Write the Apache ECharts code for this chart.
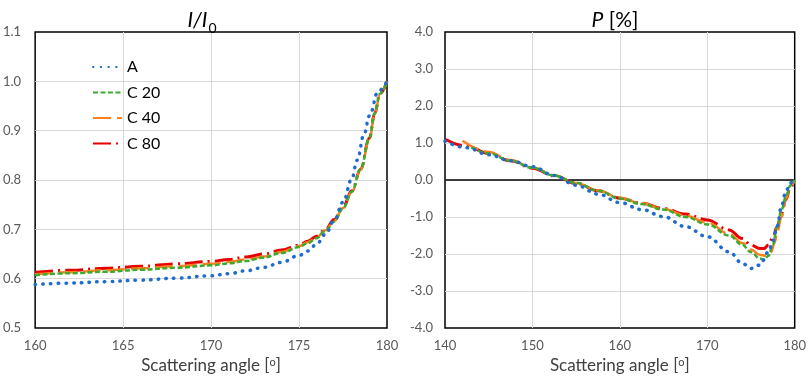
<!DOCTYPE html>
<html>
<head>
<meta charset="utf-8">
<script src="https://cdn.jsdelivr.net/npm/echarts@6/dist/echarts.min.js"></script>
<style>
  html, body { margin: 0; padding: 0; background: #fff; }
  #main { width: 809px; height: 381px; }
</style>
</head>
<body>
<div id="main"></div>
<script>
  // I/I0 panel (left)
  let iAngA = [160, 162, 164, 166, 168, 170, 171, 172, 173, 174, 175, 175.5, 176, 176.5, 177, 177.5, 178, 178.3, 178.7, 179, 179.5, 180];
  let iA = [0.588, 0.591, 0.594, 0.597, 0.601, 0.606, 0.610, 0.616, 0.623, 0.633, 0.647, 0.656, 0.670, 0.690, 0.718, 0.755, 0.802, 0.840, 0.893, 0.930, 0.980, 1.0];
  let iAngC = [160, 162, 164, 166, 168, 170, 171, 172, 173, 174, 175, 175.5, 176, 176.5, 177, 177.5, 178, 178.5, 179, 179.3, 179.6, 180];
  let iC20 = [0.607, 0.611, 0.614, 0.618, 0.622, 0.627, 0.631, 0.636, 0.643, 0.652, 0.664, 0.672, 0.682, 0.697, 0.716, 0.742, 0.776, 0.822, 0.885, 0.935, 0.975, 1.0];
  let iC40 = [0.609, 0.613, 0.617, 0.621, 0.625, 0.630, 0.634, 0.639, 0.645, 0.654, 0.666, 0.674, 0.684, 0.698, 0.717, 0.743, 0.776, 0.821, 0.883, 0.933, 0.974, 1.0];
  let iC80 = [0.613, 0.617, 0.621, 0.625, 0.630, 0.635, 0.639, 0.644, 0.650, 0.658, 0.668, 0.676, 0.686, 0.700, 0.720, 0.745, 0.778, 0.822, 0.885, 0.935, 0.975, 1.0];

  // P panel (right)
  let pAngA = [140, 142.5, 145, 147.5, 150, 152.5, 155, 157.5, 160, 162.5, 165, 167.5, 170, 172.5, 174, 175, 176, 177, 177.5, 178, 178.5, 179, 179.5, 180];
  let pA = [1.05, 0.87, 0.68, 0.52, 0.36, 0.12, -0.14, -0.38, -0.61, -0.80, -0.99, -1.26, -1.53, -1.94, -2.25, -2.39, -2.30, -1.95, -1.65, -1.25, -0.70, -0.30, -0.08, 0];
  let pAngC20 = [143, 145, 147.5, 150, 152.5, 155, 157.5, 160, 162.5, 165, 167.5, 170, 172.5, 174, 175, 176, 176.5, 177, 177.5, 178, 178.5, 179, 179.5, 180];
  let pC20 = [0.88, 0.72, 0.52, 0.33, 0.12, -0.08, -0.29, -0.50, -0.65, -0.80, -1.00, -1.20, -1.50, -1.75, -1.95, -2.12, -2.16, -2.05, -1.75, -1.25, -0.80, -0.45, -0.15, 0];
  let pAngC40 = [142, 145, 147.5, 150, 152.5, 155, 157.5, 160, 162.5, 165, 167.5, 170, 172.5, 174, 175, 176, 176.75, 177.3, 177.7, 178, 178.5, 179, 179.5, 180];
  let pC40 = [1.06, 0.76, 0.54, 0.34, 0.13, -0.08, -0.28, -0.48, -0.63, -0.78, -0.96, -1.15, -1.45, -1.70, -1.88, -2.02, -2.05, -1.95, -1.70, -1.40, -1.00, -0.50, -0.18, 0];
  let pAngC80 = [140, 142.5, 145, 147.5, 150, 152.5, 155, 157.5, 160, 162.5, 165, 167.5, 170, 172.5, 174, 175, 176, 176.5, 177, 177.5, 178, 178.5, 179, 179.5, 180];
  let pC80 = [1.10, 0.91, 0.72, 0.52, 0.32, 0.11, -0.09, -0.29, -0.49, -0.63, -0.77, -0.92, -1.08, -1.35, -1.58, -1.76, -1.85, -1.85, -1.76, -1.55, -1.26, -0.90, -0.52, -0.20, 0];

  let seriesNames = ['A', 'C 20', 'C 40', 'C 80'];
  let colors = ['#1f6ccf', '#3aab2d', '#ff7f1e', '#e60000'];

  const font = 'Lato, "Open Sans", sans-serif';
  const zip = (xs, ys) => xs.map((x, i) => [x, ys[i]]);

  // line looks per series
  let styles = [
    { width: 3.5, type: [0.5, 7.2], cap: 'round' },
    { width: 2.5, type: [5, 2.5] },
    { width: 2.5, type: [18, 6] },
    { width: 3, type: [18, 5, 2, 5] }
  ];

  function mkLine(name, idx, data, gi, extra) {
    let s = {
      name: name,
      type: 'line',
      xAxisIndex: gi,
      yAxisIndex: gi,
      data: data,
      smooth: 0.4,
      smoothMonotone: 'x',
      showSymbol: false,
      symbol: 'none',
      lineStyle: Object.assign({ color: colors[idx] }, styles[idx]),
      itemStyle: { color: colors[idx] },
      z: 10 - idx
    };
    return Object.assign(s, extra || {});
  }

  let chart = echarts.init(document.getElementById('main'));

  let axisName = {
    name: 'Scattering angle [{s|o}]',
    nameLocation: 'middle',
    nameGap: 29,
    nameTextStyle: {
      fontFamily: font, fontSize: 17, color: '#404040',
      rich: { s: { fontFamily: font, fontSize: 11, color: '#404040', verticalAlign: 'top' } }
    }
  };
  let split = { showMinLine: false, showMaxLine: false, lineStyle: { color: '#d9d9d9' } };

  let option = {
    animation: false,
    color: colors,
    title: [{
      text: '{i|I/I}{s|0}',
      left: 197, top: 5, textAlign: 'center',
      textStyle: {
        fontWeight: 'normal',
        rich: {
          i: { fontFamily: font, fontSize: 21, fontStyle: 'italic', fontWeight: 'normal', color: '#000', verticalAlign: 'top', lineHeight: 26 },
          s: { fontFamily: font, fontSize: 14, fontWeight: 'normal', color: '#000', verticalAlign: 'top', lineHeight: 14, padding: [11, 0, 0, 1] }
        }
      }
    }, {
      text: '{i|P} [%]',
      left: 610, top: 5, textAlign: 'center',
      textStyle: {
        fontFamily: font, fontSize: 21, fontWeight: 'normal', color: '#000',
        rich: { i: { fontFamily: font, fontSize: 21, fontStyle: 'italic', fontWeight: 'normal', color: '#000' } }
      }
    }],
    legend: {
      data: seriesNames,
      orient: 'vertical',
      left: 92, top: 59, padding: 0,
      itemWidth: 29, itemHeight: 14, itemGap: 9.5,
      itemStyle: { opacity: 0 },
      textStyle: { fontFamily: font, fontSize: 16, color: '#000' }
    },
    grid: [
      { left: 35, top: 32, width: 352, height: 296, show: true, borderColor: '#000', borderWidth: 1.5 },
      { left: 445, top: 32, width: 352, height: 296, show: true, borderColor: '#000', borderWidth: 1.5 }
    ],
    xAxis: [
      Object.assign({
        type: 'value', gridIndex: 0, min: 160, max: 180, interval: 5,
        axisLine: { show: false }, axisTick: { show: false },
        splitLine: split,
        axisLabel: { fontFamily: font, fontSize: 13, color: '#595959', margin: 11 }
      }, axisName),
      Object.assign({
        type: 'value', gridIndex: 1, min: 140, max: 180, interval: 10,
        axisLine: { show: false }, axisTick: { show: false },
        splitLine: split,
        axisLabel: { fontFamily: font, fontSize: 13, color: '#595959', margin: 11 }
      }, axisName)
    ],
    yAxis: [{
      type: 'value', gridIndex: 0, min: 0.5, max: 1.1, interval: 0.1,
      axisLine: { show: false }, axisTick: { show: false },
      splitLine: split,
      axisLabel: { fontFamily: font, fontSize: 13, color: '#595959', margin: 14, formatter: v => v.toFixed(1) }
    }, {
      type: 'value', gridIndex: 1, min: -4, max: 4, interval: 1,
      axisLine: { show: false }, axisTick: { show: false },
      splitLine: split,
      axisLabel: { fontFamily: font, fontSize: 13, color: '#595959', margin: 12, formatter: v => v.toFixed(1) }
    }],
    series: [
      mkLine('A', 0, zip(iAngA, iA), 0),
      mkLine('C 20', 1, zip(iAngC, iC20), 0),
      mkLine('C 40', 2, zip(iAngC, iC40), 0),
      mkLine('C 80', 3, zip(iAngC, iC80), 0),
      mkLine('A', 0, zip(pAngA, pA), 1, {
        markLine: {
          silent: true, symbol: 'none', label: { show: false },
          lineStyle: { color: '#000', width: 1.5, type: 'solid' },
          data: [{ yAxis: 0 }]
        }
      }),
      mkLine('C 20', 1, zip(pAngC20, pC20), 1),
      mkLine('C 40', 2, zip(pAngC40, pC40), 1),
      mkLine('C 80', 3, zip(pAngC80, pC80), 1)
    ]
  };
  chart.setOption(option);
</script>
</body>
</html>
